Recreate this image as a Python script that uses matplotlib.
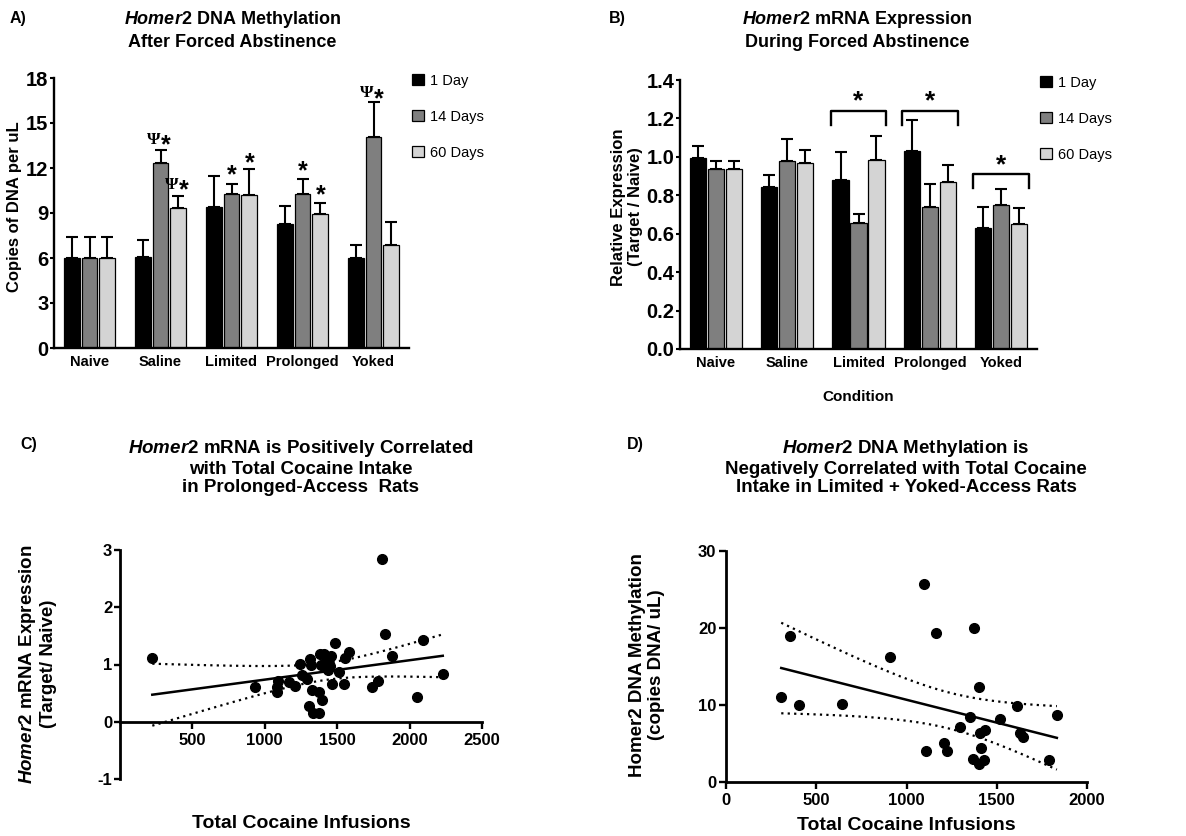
import numpy as np
import matplotlib
matplotlib.use("Agg")
import matplotlib.pyplot as plt
from matplotlib.patches import Patch

plt.rcParams['font.family'] = ['Liberation Sans', 'DejaVu Sans']
plt.rcParams['font.weight'] = 'bold'
plt.rcParams['axes.unicode_minus'] = False
plt.rcParams['mathtext.fontset'] = 'custom'
plt.rcParams['mathtext.it'] = 'Liberation Sans:italic:bold'
plt.rcParams['mathtext.rm'] = 'Liberation Sans:bold'
plt.rcParams['mathtext.bf'] = 'Liberation Sans:bold'

# ---------------------------------------------------------------- data
conditions = ['Naive', 'Saline', 'Limited', 'Prolonged', 'Yoked']
days = ['1 Day', '14 Days', '60 Days']
day_colors = ['#000000', '#7f7f7f', '#d4d4d4']

# A) Homer2 DNA methylation (copies of DNA per uL), mean and SEM
meth_1d = [6.0, 6.07, 9.4, 8.24, 6.02]
meth_14d = [6.0, 12.33, 10.27, 10.27, 14.09]
meth_60d = [6.0, 9.33, 10.2, 8.93, 6.84]
meth_err_1d = [1.4, 1.15, 2.04, 1.25, 0.87]
meth_err_14d = [1.4, 0.85, 0.69, 1.02, 2.29]
meth_err_60d = [1.4, 0.83, 1.73, 0.74, 1.58]

# significance marks in A: (condition, day, label, height)
meth_marks = [(1, 1, 'Ψ*', 14.0), (1, 2, 'Ψ*', 11.0), (2, 1, '*', 12.0),
              (2, 2, '*', 12.8), (3, 1, '*', 12.3), (3, 2, '*', 10.7),
              (4, 1, 'Ψ*', 17.1)]

# B) Homer2 mRNA relative expression, mean and SEM
expr_1d = [0.993, 0.842, 0.880, 1.031, 0.632]
expr_14d = [0.936, 0.981, 0.655, 0.740, 0.747]
expr_60d = [0.936, 0.970, 0.984, 0.871, 0.648]
expr_err_1d = [0.064, 0.062, 0.147, 0.161, 0.108]
expr_err_14d = [0.045, 0.114, 0.048, 0.118, 0.086]
expr_err_60d = [0.045, 0.064, 0.123, 0.085, 0.087]

# brackets in B
bracket_groups = [2, 3, 4]
bracket_top = [1.24, 1.24, 0.91]
bracket_leg = [1.166, 1.166, 0.837]
bracket_star = [1.33, 1.33, 1.0]

# C) Prolonged-access rats: infusions vs mRNA
prol_infusions = [223, 933, 1089, 1082, 1082, 1169, 1208, 1244, 1260, 1289,
                  1312, 1320, 1328, 1305, 1330, 1375, 1375, 1398, 1381, 1408,
                  1385, 1426, 1435, 1456, 1483, 1466, 1510, 1545, 1553, 1581,
                  1737, 1780, 1812, 1828, 1881, 2051, 2092, 2229, 1448]
prol_mrna = [1.11, 0.60, 0.72, 0.60, 0.52, 0.70, 0.62, 1.01, 0.82, 0.74,
             1.09, 1.00, 0.56, 0.27, 0.16, 0.15, 0.52, 0.38, 1.18, 1.18,
             0.99, 1.05, 0.90, 1.14, 1.37, 0.66, 0.87, 0.66, 1.11, 1.21,
             0.60, 0.71, 2.84, 1.53, 1.15, 0.44, 1.43, 0.83, 0.97]

# D) Limited + Yoked rats: infusions vs methylation
ly_infusions = [1095, 356, 1165, 1372, 910, 1403, 306, 402, 643, 1612,
                1833, 1353, 1520, 1294, 1436, 1409, 1627, 1645, 1206, 1108,
                1224, 1412, 1366, 1431, 1400, 1787]
ly_meth = [25.7, 19.0, 19.4, 20.0, 16.2, 12.4, 11.0, 10.0, 10.1, 9.9,
           8.7, 8.4, 8.2, 7.1, 6.8, 6.4, 6.3, 5.9, 5.1, 4.0,
           4.0, 4.4, 3.05, 2.9, 2.35, 2.9]

W, H = 1186, 836
fig = plt.figure(figsize=(W / 100, H / 100), dpi=100)


def rect(left, top, right, bottom):
    return [left / W, 1 - bottom / H, (right - left) / W, (bottom - top) / H]


def ftext(x, y, s, **kw):
    fig.text(x / W, 1 - y / H, s, **kw)


def mark(ax, x, y, s, size=18):
    # place asterisk so that its ink is centred on y
    if s.startswith('Ψ'):
        ax.annotate('Ψ', (x, y), xytext=(-0.3, -4.2), textcoords='offset points',
                    ha='right', va='baseline', fontsize=12.5,
                    family=['Liberation Serif', 'DejaVu Serif'])
        ax.annotate('*', (x, y), xytext=(0.3, -0.58 * size), textcoords='offset points',
                    ha='left', va='baseline', fontsize=size)
    else:
        ax.annotate(s, (x, y), xytext=(0, -0.58 * size), textcoords='offset points',
                    ha='center', va='baseline', fontsize=size)


def bar_panel(ax, means, errs, ymax, step, fmt):
    x = np.arange(len(conditions))
    offs = [-0.252, 0, 0.252]
    for k in range(3):
        ax.bar(x + offs[k], means[k], width=0.225, color=day_colors[k],
               edgecolor='black', linewidth=0.9, label=days[k], zorder=2)
        ax.errorbar(x + offs[k], means[k], yerr=[np.zeros(len(x)), errs[k]],
                    fmt='none', ecolor='black', elinewidth=1.5, capsize=4,
                    capthick=1.5, zorder=1)
    ax.set_xlim(-0.5, 4.5)
    ax.set_ylim(0, ymax)
    ax.set_yticks(np.arange(0, ymax + step / 2, step))
    ax.yaxis.set_major_formatter(plt.FormatStrFormatter(fmt))
    ax.set_xticks(x)
    ax.set_xticklabels(conditions, fontsize=10.5)
    ax.tick_params(axis='x', length=0, pad=5)
    ax.tick_params(axis='y', labelsize=14.5, length=3, width=1.5, pad=1)
    for s in ['top', 'right']:
        ax.spines[s].set_visible(False)
    for s in ['left', 'bottom']:
        ax.spines[s].set_linewidth(1.7)
    handles = [Patch(facecolor=c, edgecolor='black', linewidth=0.9) for c in day_colors]
    ax.legend(handles, days, loc='upper left', bbox_to_anchor=(1.008, 1.015),
              frameon=False, prop={'size': 10.5, 'weight': 'normal'},
              handlelength=0.8, handleheight=0.8, labelspacing=1.5,
              handletextpad=0.45, borderaxespad=0, borderpad=0)
    return offs


# ---------------------------------------------------------------- A
axA = fig.add_axes(rect(54, 78, 409, 348))
offs = bar_panel(axA, [meth_1d, meth_14d, meth_60d],
                 [meth_err_1d, meth_err_14d, meth_err_60d], 18, 3, '%d')
for c, d, s, y in meth_marks:
    mark(axA, c + offs[d], y, s)
ftext(18, 18, 'A)', fontsize=11.5, va='center', ha='center')
ftext(232, 30, '$\\mathit{Homer2}$ DNA Methylation\nAfter Forced Abstinence',
      fontsize=13, ha='center', va='center', linespacing=1.3)
ftext(15, 207, 'Copies of DNA per uL', rotation=90, fontsize=12,
      ha='center', va='center')

# ---------------------------------------------------------------- B
axB = fig.add_axes(rect(680, 80, 1037, 349))
offs = bar_panel(axB, [expr_1d, expr_14d, expr_60d],
                 [expr_err_1d, expr_err_14d, expr_err_60d], 1.4, 0.2, '%.1f')
for g, top, leg, sy in zip(bracket_groups, bracket_top, bracket_leg, bracket_star):
    axB.plot([g - 0.39, g - 0.39, g + 0.39, g + 0.39], [leg, top, top, leg],
             color='black', linewidth=1.7, clip_on=False)
    mark(axB, g, sy, '*', size=19)
ftext(617, 18, 'B)', fontsize=11.5, va='center', ha='center')
ftext(857, 30, '$\\mathit{Homer2}$ mRNA Expression\nDuring Forced Abstinence',
      fontsize=13, ha='center', va='center', linespacing=1.3)
ftext(627, 207, 'Relative Expression\n(Target / Naive)', rotation=90,
      fontsize=12, ha='center', va='center', linespacing=1.1)
ftext(858, 397, 'Condition', fontsize=11, ha='center', va='center')


def fit_band(ax, x, y, tcrit):
    x = np.asarray(x, float)
    y = np.asarray(y, float)
    n = len(x)
    b, a = np.polyfit(x, y, 1)
    resid = y - (a + b * x)
    s = np.sqrt(np.sum(resid ** 2) / (n - 2))
    xs = np.linspace(x.min(), x.max(), 200)
    se = s * np.sqrt(1 / n + (xs - x.mean()) ** 2 / np.sum((x - x.mean()) ** 2))
    fit = a + b * xs
    ax.plot(xs, fit, color='black', linewidth=1.8, zorder=2)
    for band in (fit + tcrit * se, fit - tcrit * se):
        ax.plot(xs, band, color='black', linewidth=1.6,
                linestyle=(0, (1, 1.9)), zorder=2)


def scatter_style(ax):
    for s in ['top', 'right']:
        ax.spines[s].set_visible(False)
    for s in ['left', 'bottom']:
        ax.spines[s].set_linewidth(2.0)
    ax.tick_params(labelsize=12, width=1.7)


# ---------------------------------------------------------------- C
axC = fig.add_axes(rect(120, 550, 482, 779))
axC.plot(prol_infusions, prol_mrna, 'o', color='black', markersize=7,
         clip_on=False, zorder=3)
fit_band(axC, prol_infusions, prol_mrna, 2.026)  # t(0.975, 37)
axC.set_xlim(0, 2500)
axC.set_ylim(-1, 3)
axC.set_xticks([500, 1000, 1500, 2000, 2500])
axC.set_yticks([-1, 0, 1, 2, 3])
axC.spines['bottom'].set_position(('data', 0))
scatter_style(axC)
axC.tick_params(axis='y', length=4, pad=1.5)
axC.tick_params(axis='x', length=5, pad=3)
ftext(29, 445, 'C)', fontsize=11.5, va='center', ha='center')
ftext(301, 467, '$\\mathit{Homer2}$ mRNA is Positively Correlated\n'
      'with Total Cocaine Intake\nin Prolonged-Access  Rats',
      fontsize=13.5, ha='center', va='center', linespacing=1.15)
ftext(37, 664, '$\\mathit{Homer2}$ mRNA Expression\n(Target/ Naive)',
      rotation=90, fontsize=13.5, ha='center', va='center', linespacing=1.2)
ftext(301, 823, 'Total Cocaine Infusions', fontsize=14, ha='center', va='center')

# ---------------------------------------------------------------- D
axD = fig.add_axes(rect(726, 551, 1087, 782))
axD.plot(ly_infusions, ly_meth, 'o', color='black', markersize=7,
         clip_on=False, zorder=3)
fit_band(axD, ly_infusions, ly_meth, 2.064)  # t(0.975, 24)
axD.set_xlim(0, 2000)
axD.set_ylim(0, 30)
axD.set_xticks([0, 500, 1000, 1500, 2000])
axD.set_yticks([0, 10, 20, 30])
scatter_style(axD)
axD.tick_params(axis='y', length=5, pad=2)
axD.tick_params(axis='x', length=5, pad=3)
ftext(635, 445, 'D)', fontsize=11.5, va='center', ha='center')
ftext(906, 467, '$\\mathit{Homer2}$ DNA Methylation is\n'
      'Negatively Correlated with Total Cocaine\nIntake in Limited + Yoked-Access Rats',
      fontsize=13.5, ha='center', va='center', linespacing=1.15)
ftext(647, 665, 'Homer2 DNA Methylation\n(copies DNA/ uL)',
      rotation=90, fontsize=13.5, ha='center', va='center', linespacing=1.2)
ftext(906, 826, 'Total Cocaine Infusions', fontsize=14, ha='center', va='center')

fig.savefig('out.png', dpi=100)
